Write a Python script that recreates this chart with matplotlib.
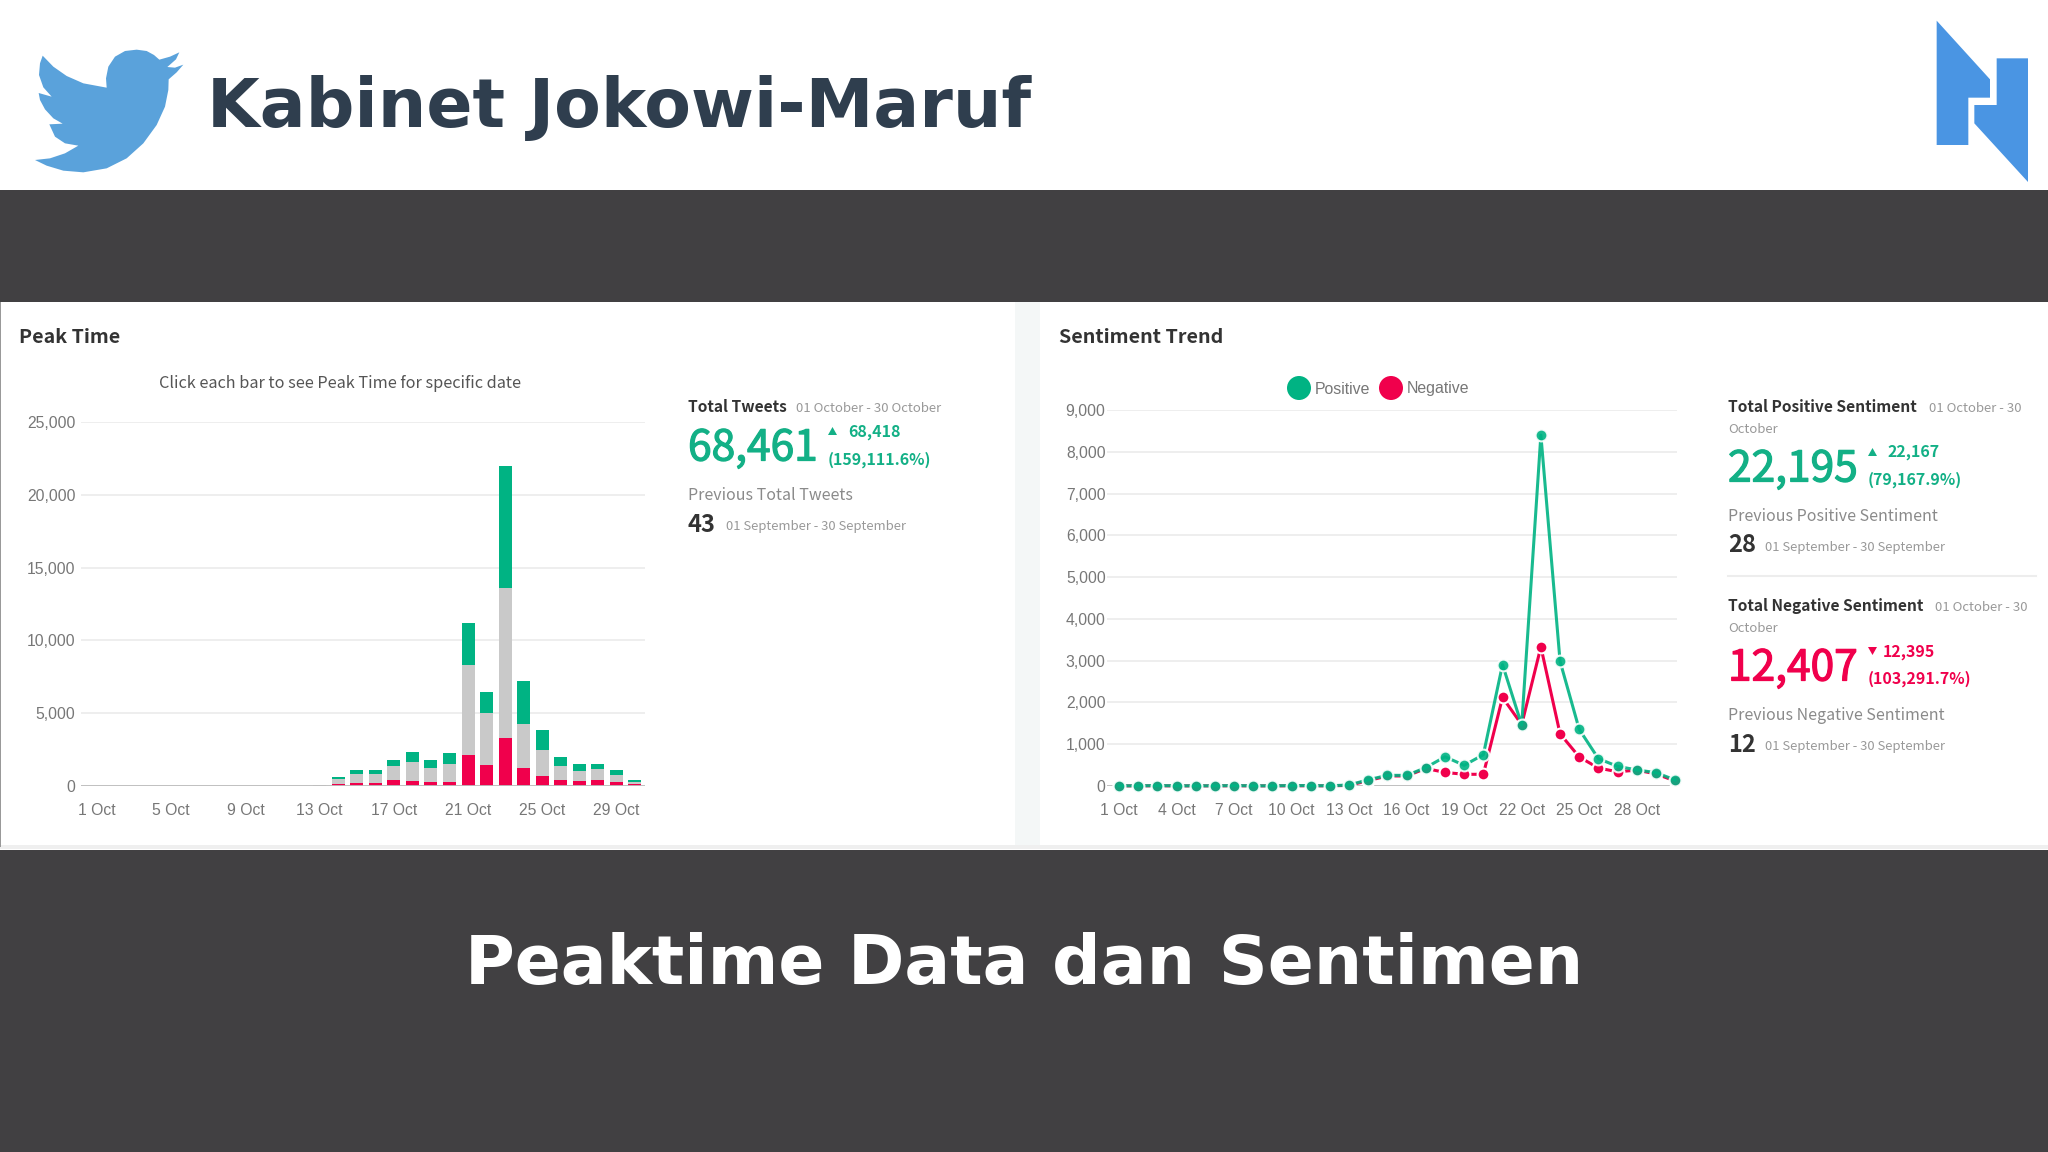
import matplotlib
matplotlib.use("agg")
import matplotlib.pyplot as plt
import matplotlib.patheffects as pe
from matplotlib.patches import Polygon, Rectangle, Circle

plt.rcParams["font.family"] = ["Liberation Sans", "DejaVu Sans"]

# data
days = list(range(1, 31))
positive = [5, 5, 10, 5, 5, 5, 10, 5, 5, 10, 10, 5, 25, 150, 255, 255, 440, 700, 495, 750,
            2905, 1460, 8400, 2985, 1355, 655, 470, 385, 320, 145]
negative = [3, 3, 5, 3, 3, 3, 5, 3, 3, 5, 5, 3, 15, 130, 240, 240, 420, 325, 280, 280,
            2120, 1470, 3330, 1250, 695, 430, 340, 380, 290, 120]
neutral = [0, 0, 0, 0, 0, 0, 0, 0, 0, 0, 5, 5, 30, 370, 610, 590, 930, 1330, 980, 1250,
           6200, 3560, 10250, 3000, 1810, 930, 680, 760, 490, 150]
bar_ticks = [1, 5, 9, 13, 17, 21, 25, 29]
line_ticks = [1, 4, 7, 10, 13, 16, 19, 22, 25, 28]
bar_yticks = [0, 5000, 10000, 15000, 20000, 25000]
line_yticks = [0, 1000, 2000, 3000, 4000, 5000, 6000, 7000, 8000, 9000]

GREEN = "#00B383"
RED = "#F0004C"
GREY = "#C9C9C9"
DARK = "#414042"
W, H = 2048, 1152

twitter_bird = [(410,149),(440,153),(462,165),(478,179),(510,170),(538,157),(528,178),(502,201),
                (525,203),(550,194),(530,217),(506,238),(505,270),(495,320),(470,375),(430,430),
                (380,475),(320,505),(250,517),(190,512),(140,497),(105,480),(150,475),(195,460),
                (235,437),(195,430),(165,410),(148,373),(188,371),(160,355),(135,328),(120,300),
                (116,279),(155,290),(130,262),(117,225),(120,190),(128,167),(160,200),(200,228),
                (250,250),(320,263),(318,235),(325,200),(345,170),(375,153)]
logo_a = [(110,62),(270,238),(270,293),(205,293),(205,435),(110,435)]
logo_b = [(290,175),(384,175),(384,546),(223,370),(223,315),(290,315)]

fig = plt.figure(figsize=(W / 100, H / 100), dpi=100, facecolor="white")

# page layer in pixel coordinates
bg = fig.add_axes([0, 0, 1, 1])
bg.set_xlim(0, W)
bg.set_ylim(H, 0)
bg.axis("off")
bg.add_patch(Rectangle((0, 190), W, 112, color=DARK, lw=0))
bg.add_patch(Rectangle((0, 302), W, 545, color="white", lw=0))
bg.add_patch(Rectangle((0, 845), W, 4, color="#EFEFEF", lw=0))
bg.add_patch(Rectangle((0, 850), W, 302, color=DARK, lw=0))
bg.add_patch(Rectangle((1015, 302), 25, 543, color="#F4F7F7", lw=0))
bg.add_patch(Rectangle((0, 302), 1, 545, color="#999999", lw=0))

bg.add_patch(Polygon([(x / 3, y / 3) for x, y in twitter_bird], color="#5AA2DB", lw=0))
bg.add_patch(Polygon([(1900 + x / 3, y / 3) for x, y in logo_a], color="#4A95E3", lw=0))
bg.add_patch(Polygon([(1900 + x / 3, y / 3) for x, y in logo_b], color="#4A95E3", lw=0))

bg.text(207, 108, "Kabinet Jokowi-Maruf", fontsize=49.1, fontweight="bold", color="#2F3E4E",
        family="DejaVu Sans", va="center")
bg.text(1024, 965, "Peaktime Data dan Sentimen", fontsize=49, fontweight="bold", color="white",
        family="DejaVu Sans", va="center", ha="center")


def txt(x, y, s, size, color="#8A8A8A", weight="normal", ha="left"):
    return bg.text(x, y + 1.5, s, fontsize=size, color=color, fontweight=weight, ha=ha, va="center",
                   family="Noto Sans CJK SC")


def big(x, y, s, color):
    # the big figures sit between regular and bold
    t = txt(x, y, s, 30.6, color)
    t.set_path_effects([pe.withStroke(linewidth=0.9, foreground=color)])


def arrow(x, y, up, color):
    d = -4 if up else 4
    bg.add_patch(Polygon([(x, y - d), (x + 9, y - d), (x + 4.5, y + d)], color=color, lw=0))


INK = "#333333"
SUB = "#999999"
txt(19, 336, "Peak Time", 14.1, INK, "bold")
txt(1059, 336, "Sentiment Trend", 14.2, INK, "bold")
txt(340, 382, "Click each bar to see Peak Time for specific date", 11.7, "#555555", ha="center")

# left stats
txt(688, 406, "Total Tweets", 11.2, INK, "bold")
txt(796, 407, "01 October - 30 October", 9.5, SUB)
big(688, 447, "68,461", "#13B086")
arrow(828, 431, True, "#13B086")
txt(848, 431, "68,418", 11.5, "#13B086", "bold")
txt(828, 458, "(159,111.6%)", 11.5, "#13B086", "bold")
txt(688, 494, "Previous Total Tweets", 11.5, "#8A8A8A")
txt(688, 523, "43", 17, INK, "bold")
txt(726, 525, "01 September - 30 September", 9.4, SUB)

# right stats
txt(1728, 406, "Total Positive Sentiment", 11.2, INK, "bold")
txt(1929, 407, "01 October - 30", 9.5, SUB)
txt(1728, 428, "October", 9.5, SUB)
big(1728, 468, "22,195", "#13B086")
arrow(1868, 452, True, "#13B086")
txt(1888, 451, "22,167", 11.5, "#13B086", "bold")
txt(1868, 478, "(79,167.9%)", 11.5, "#13B086", "bold")
txt(1728, 515, "Previous Positive Sentiment", 11.5, "#8A8A8A")
txt(1728, 544, "28", 17, INK, "bold")
txt(1765, 546, "01 September - 30 September", 9.4, SUB)
bg.plot([1728, 2036], [576, 576], color="#EDEDED", lw=1.5)
txt(1728, 605, "Total Negative Sentiment", 11.2, INK, "bold")
txt(1935, 606, "01 October - 30", 9.5, SUB)
txt(1728, 627, "October", 9.5, SUB)
big(1728, 667, "12,407", RED)
arrow(1868, 651, False, RED)
txt(1883, 650, "12,395", 11.5, RED, "bold")
txt(1868, 677, "(103,291.7%)", 11.5, RED, "bold")
txt(1728, 714, "Previous Negative Sentiment", 11.5, "#8A8A8A")
txt(1728, 743, "12", 17, INK, "bold")
txt(1765, 745, "01 September - 30 September", 9.4, SUB)

# legend of the line chart
for cx, col, name in [(1299, GREEN, "Positive"), (1391, RED, "Negative")]:
    bg.add_patch(Circle((cx, 388), 12, color=col, lw=0))
    bg.text(cx + 16, 389, name, fontsize=11.4, color="#777777", va="center")


def style_axis(ax, yticks, xticks):
    ax.set_facecolor("none")
    for s in ax.spines.values():
        s.set_visible(False)
    ax.set_yticks(yticks)
    ax.set_yticklabels([f"{v:,}" for v in yticks])
    ax.set_xticks(xticks)
    ax.set_xticklabels([f"{d} Oct" for d in xticks])
    ax.tick_params(length=0, labelsize=11.3, labelcolor="#777777")
    ax.grid(axis="y", color="#EAEAEA", lw=1.1)
    ax.set_axisbelow(True)


# bars: x 81..645, y 422..786 px
ax1 = fig.add_axes([81 / W, 1 - 786 / H, 564 / W, 364 / H])
bottom_neu = negative
bottom_pos = [a + b for a, b in zip(negative, neutral)]
ax1.bar(days, negative, width=0.7, color=RED)
ax1.bar(days, neutral, width=0.7, bottom=bottom_neu, color=GREY)
ax1.bar(days, positive, width=0.7, bottom=bottom_pos, color=GREEN)
ax1.set_xlim(0.14, 30.54)
ax1.set_ylim(0, 25000)
style_axis(ax1, bar_yticks, bar_ticks)
ax1.tick_params(axis="x", pad=12)
ax1.tick_params(axis="y", pad=4)
ax1.axhline(0, color="#BDBDBD", lw=1.3, zorder=1)

# lines: x 1107..1677, y 410..786 px
ax2 = fig.add_axes([1107 / W, 1 - 786 / H, 570 / W, 376 / H])
ax2.plot(days, negative, color=RED, lw=2.2, marker="o", ms=8.5, mec="white", mew=1.5, clip_on=False)
ax2.plot(days, positive, color=GREEN, lw=2.2, alpha=0.9, marker="o", ms=8.5, mec="white", mew=1.5, clip_on=False)
ax2.set_xlim(0.37, 30.1)
ax2.set_ylim(0, 9000)
style_axis(ax2, line_yticks, line_ticks)
ax2.tick_params(axis="x", pad=12)
ax2.tick_params(axis="y", pad=1)
ax2.axhline(0, color="#BDBDBD", lw=1.3, zorder=1)

fig.savefig("out.png", dpi=100)
